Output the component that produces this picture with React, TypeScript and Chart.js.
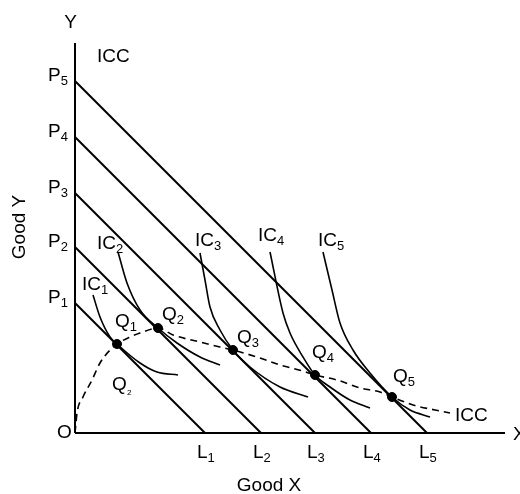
import React, { useEffect, useRef } from "react";
import { Chart, registerables } from "chart.js";
Chart.register(...registerables);

// Axis extents (data units)
const xMax = 43;
const yMax = 39;

// Budget line intercepts (P on Y axis, L on X axis)
const intercepts = [13.0, 18.6, 24.0, 29.6, 35.2];
const budgetSubs = ["1", "2", "3", "4", "5"];

// Equilibrium points Q1..Q5
const qX = [4.2, 8.3, 15.8, 24.0, 31.7];
const qY = [8.9, 10.5, 8.3, 5.8, 3.6];

// Income consumption curve (dashed)
const iccX = [0, 0.1, 0.2, 0.8, 1.7, 2.5, 3.5, 4.2, 5.5, 6.5, 8.3, 9.8, 12.5, 14.5, 15.8, 18.5, 20.5, 22.8, 24.0, 26.2, 28.5, 30.5, 31.7, 33.8, 36.0, 37.5];
const iccY = [0, 1.0, 2.0, 3.6, 5.3, 7.0, 8.3, 8.9, 9.6, 10.0, 10.5, 9.8, 9.1, 8.6, 8.3, 7.5, 6.8, 6.2, 5.8, 5.3, 4.5, 4.1, 3.6, 2.8, 2.3, 2.0];

// Indifference curves
const ic1X = [1.8, 2.5, 3.5, 4.2, 6.5, 8.2, 10.3];
const ic1Y = [13.8, 11.6, 9.6, 8.9, 7.0, 6.1, 5.8];
const ic2X = [4.3, 5.2, 6.5, 8.3, 10.2, 12.5, 14.5];
const ic2Y = [18.1, 15.0, 12.3, 10.5, 9.0, 7.6, 6.8];
const ic3X = [12.5, 13.0, 13.5, 14.5, 15.8, 17.5, 20.5, 23.3];
const ic3Y = [18.0, 15.3, 12.6, 10.3, 8.3, 6.6, 4.6, 3.6];
const ic4X = [19.5, 20.8, 21.5, 22.8, 24.0, 25.5, 27.5, 29.5];
const ic4Y = [18.1, 12.0, 10.0, 7.6, 5.8, 4.6, 3.3, 2.5];
const ic5X = [24.8, 25.7, 26.5, 27.8, 29.5, 31.7, 33.5, 35.5];
const ic5Y = [18.1, 14.3, 11.0, 8.3, 6.0, 3.6, 2.3, 1.6];

// Text annotations (main text, subscript, anchor in data units)
const labelText = ["Y", "ICC", "O", "X", "Q", "IC", "IC", "IC", "IC", "IC", "Q", "Q", "Q", "Q", "Q", "ICC"];
const labelSub = ["", "", "", "", "₂", "1", "2", "3", "4", "5", "1", "2", "3", "4", "5", ""];
const labelX = [-0.45, 2.2, -1.8, 43.8, 3.7, 0.7, 2.2, 12.0, 18.3, 24.3, 4.0, 8.7, 16.2, 23.7, 31.8, 38.0];
const labelY = [40.5, 37.1, -0.5, -0.7, 4.3, 14.3, 18.4, 18.7, 19.2, 18.7, 10.6, 11.3, 9.0, 7.5, 5.1, 1.2];

const FONT = "Liberation Sans, Arial, sans-serif";

function toPts(xs: number[], ys: number[]) {
  return xs.map((x, i) => ({ x, y: ys[i] }));
}

function drawSub(ctx: CanvasRenderingContext2D, main: string, sub: string, x: number, y: number, align: "left" | "right") {
  ctx.font = `19px ${FONT}`;
  const w1 = ctx.measureText(main).width;
  ctx.font = `13px ${FONT}`;
  const w2 = sub ? ctx.measureText(sub).width : 0;
  const start = align === "right" ? x - w1 - w2 : x;
  ctx.font = `19px ${FONT}`;
  ctx.fillText(main, start, y);
  if (sub) {
    ctx.font = `13px ${FONT}`;
    ctx.fillText(sub, start + w1, y + 4);
  }
}

const textPlugin = {
  id: "econText",
  afterDatasetsDraw(chart: any) {
    const ctx: CanvasRenderingContext2D = chart.ctx;
    const xs = chart.scales.x;
    const ys = chart.scales.y;
    ctx.save();
    ctx.fillStyle = "#000";
    ctx.textBaseline = "alphabetic";
    ctx.textAlign = "left";
    // P labels on Y axis, L labels on X axis
    intercepts.forEach((c, i) => {
      drawSub(ctx, "P", budgetSubs[i], xs.getPixelForValue(-0.7), ys.getPixelForValue(c), "right");
      drawSub(ctx, "L", budgetSubs[i], xs.getPixelForValue(c - 0.8), ys.getPixelForValue(-2.5), "left");
    });
    labelText.forEach((t, i) => {
      const px = xs.getPixelForValue(labelX[i]);
      const py = ys.getPixelForValue(labelY[i]);
      if (t === "Y") {
        ctx.font = `19px ${FONT}`;
        ctx.textAlign = "center";
        ctx.fillText(t, px, py);
        ctx.textAlign = "left";
      } else {
        drawSub(ctx, t, labelSub[i], px, py, "left");
      }
    });
    // Axis titles
    ctx.font = `19px ${FONT}`;
    ctx.textAlign = "center";
    ctx.fillText("Good X", xs.getPixelForValue(19.4), ys.getPixelForValue(-5.8));
    ctx.translate(xs.getPixelForValue(-5.5), ys.getPixelForValue(20.6));
    ctx.rotate(-Math.PI / 2);
    ctx.textBaseline = "middle";
    ctx.fillText("Good Y", 0, 0);
    ctx.restore();
  },
};

export default function App() {
  const ref = useRef<HTMLCanvasElement>(null);
  useEffect(() => {
    if (!ref.current) return;
    const lineDs = (pts: any[], width: number, dash: number[] = [], curve = false) => ({
      type: "line" as const,
      data: pts,
      borderColor: "#000",
      borderWidth: width,
      borderDash: dash,
      pointRadius: 0,
      fill: false,
      clip: false as any,
      cubicInterpolationMode: curve ? ("monotone" as const) : ("default" as const),
      tension: 0,
    });
    const datasets: any[] = [
      lineDs([{ x: 0, y: 0 }, { x: 0, y: yMax }], 2),
      lineDs([{ x: 0, y: 0 }, { x: xMax, y: 0 }], 2),
      ...intercepts.map((c) => lineDs([{ x: 0, y: c }, { x: c, y: 0 }], 2)),
      lineDs(toPts(iccX, iccY), 1.6, [7, 5], true),
      lineDs(toPts(ic1X, ic1Y), 1.6, [], true),
      lineDs(toPts(ic2X, ic2Y), 1.6, [], true),
      lineDs(toPts(ic3X, ic3Y), 1.6, [], true),
      lineDs(toPts(ic4X, ic4Y), 1.6, [], true),
      lineDs(toPts(ic5X, ic5Y), 1.6, [], true),
      {
        type: "scatter" as const,
        data: toPts(qX, qY),
        pointRadius: 4.5,
        pointBackgroundColor: "#000",
        pointBorderColor: "#000",
        showLine: false,
        clip: false,
      },
    ];
    const chart = new Chart(ref.current, {
      type: "scatter",
      data: { datasets },
      options: {
        responsive: false,
        animation: false,
        events: [],
        layout: { padding: { left: 75, right: 15, top: 43, bottom: 61 } },
        plugins: { legend: { display: false }, tooltip: { enabled: false } },
        scales: {
          x: { type: "linear", min: 0, max: xMax, display: false },
          y: { type: "linear", min: 0, max: yMax, display: false },
        },
      },
      plugins: [textPlugin],
    });
    return () => chart.destroy();
  }, []);
  return (
    <div style={{ position: "absolute", left: 0, top: 0, width: 520, height: 494, background: "#fff" }}>
      <canvas ref={ref} width={520} height={494} style={{ display: "block" }} />
    </div>
  );
}
